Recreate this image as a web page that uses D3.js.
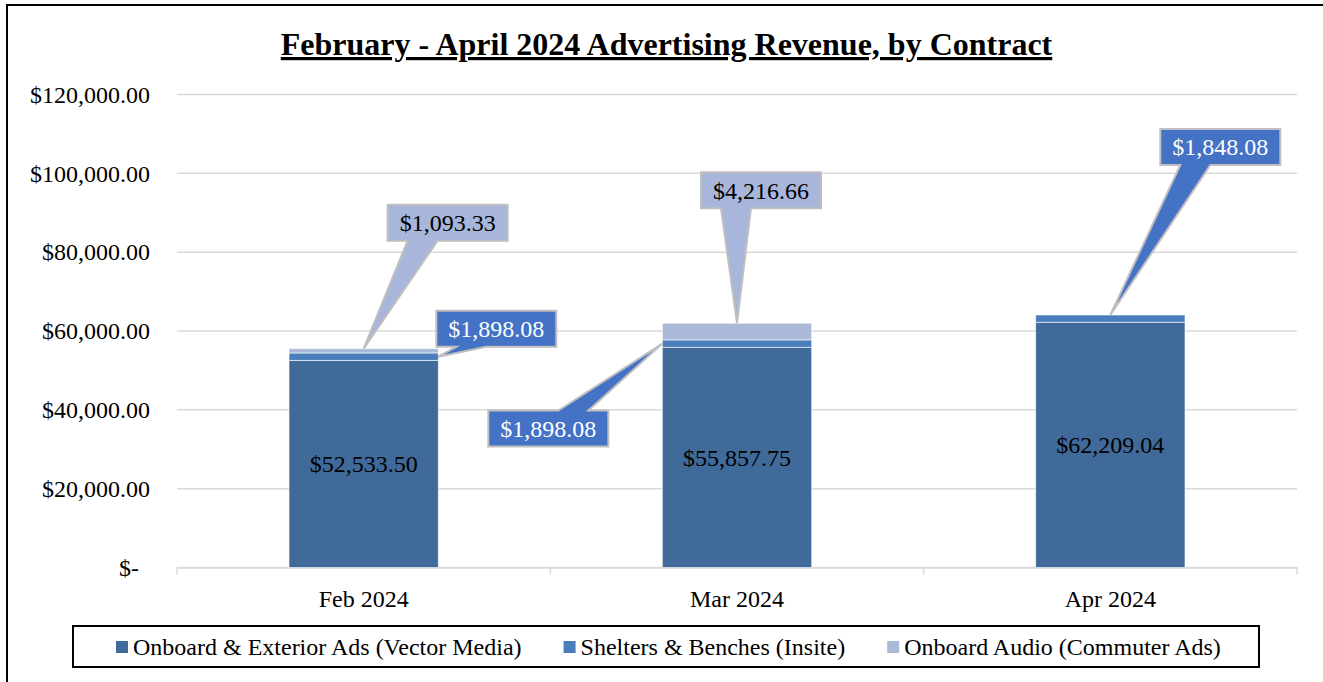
<!DOCTYPE html>
<html>
<head>
<meta charset="utf-8">
<script src="https://cdn.jsdelivr.net/npm/d3@7"></script>
<style>
    body { margin: 0; background: #ffffff; }
    svg { display: block; font-family: "Times New Roman", "Liberation Serif", serif; }
</style>
</head>
<body>
<div id="chart"></div>
<script>
// ---------------------------------------------------------------------------
// Datos
// ---------------------------------------------------------------------------
const months = ["Feb 2024", "Mar 2024", "Apr 2024"];
const seriesNames = [
    "Onboard & Exterior Ads (Vector Media)",
    "Shelters & Benches (Insite)",
    "Onboard Audio (Commuter Ads)"
];
const vectorMedia = [52533.50, 55857.75, 62209.04];
const insite = [1898.08, 1898.08, 1848.08];
const commuterAds = [1093.33, 4216.66, 0];
const yTicks = [0, 20000, 40000, 60000, 80000, 100000, 120000];

// etiquetas tipo "callout": serie, mes, punto de anclaje y desplazamiento de la caja
const callouts = [
    {series: 2, month: 0, anchor: "top",   dx: 84,   dy: -126},
    {series: 1, month: 0, anchor: "right", dx: 58,   dy: -28},
    {series: 2, month: 1, anchor: "top",   dx: 24,   dy: -133},
    {series: 1, month: 1, anchor: "left",  dx: -114, dy: 85},
    {series: 1, month: 2, anchor: "top",   dx: 110,  dy: -168}
];

const colors = ["#3f6a9a", "#4a7ebb", "#aab9d8"];
const calloutFill = ["#3f6a9a", "#4472c4", "#a7b6da"];
const calloutText = ["#ffffff", "#ffffff", "#000000"];
const fontFamily = '"Times New Roman", "Liberation Serif", serif';

const width = 1323, height = 682;
const margin = {top: 94.5, right: 26, bottom: 114.5, left: 177};

// ---------------------------------------------------------------------------
// Gráfico
// ---------------------------------------------------------------------------
const svg = d3.select("#chart").append("svg")
    .attr("width", width)
    .attr("height", height);

// borde exterior
svg.append("path")
    .attr("d", "M7," + (height + 5) + " L7,5 L" + (width + 5) + ",5")
    .attr("fill", "none")
    .attr("stroke", "#000")
    .attr("stroke-width", 2);

const x = d3.scaleBand()
    .domain(months)
    .range([margin.left, width - margin.right])
    .paddingInner(0.6)
    .paddingOuter(0.3);

const y = d3.scaleLinear()
    .domain([0, 120000])
    .range([height - margin.bottom, margin.top]);

const fmt = d3.format(",.2f");
const money = v => "$" + fmt(v);

// título
svg.append("text")
    .attr("x", 666.5)
    .attr("y", 55)
    .attr("text-anchor", "middle")
    .style("font-size", "32px")
    .style("font-weight", "bold")
    .style("text-decoration", "underline")
    .text("February - April 2024 Advertising Revenue, by Contract");

// rejilla
svg.append("g")
    .selectAll("line")
    .data(yTicks)
    .enter()
    .append("line")
    .attr("x1", x.range()[0])
    .attr("x2", x.range()[1])
    .attr("y1", d => y(d))
    .attr("y2", d => y(d))
    .attr("stroke", "#d9d9d9")
    .attr("stroke-width", 1.5);

// eje y
const yAxis = svg.append("g")
    .attr("transform", "translate(" + margin.left + ",0)")
    .call(d3.axisLeft(y).tickValues(yTicks).tickSize(0).tickPadding(27)
        .tickFormat(d => d === 0 ? "$-" : money(d)))
    .attr("font-family", fontFamily);
yAxis.select(".domain").remove();
yAxis.selectAll("text")
    .style("font-size", "24px")
    .attr("fill", "#000")
    .attr("dx", d => d === 0 ? -11 : 0);

// eje x
const xAxis = svg.append("g")
    .attr("transform", "translate(0," + y(0) + ")")
    .call(d3.axisBottom(x).tickSize(0).tickPadding(22))
    .attr("font-family", fontFamily);
xAxis.select(".domain").attr("stroke", "#d9d9d9").attr("stroke-width", 1.5);
xAxis.selectAll("text").style("font-size", "24px").attr("fill", "#000");

const step = x.step();
const bounds = d3.range(months.length + 1).map(i => x.range()[0] + i * step);
xAxis.selectAll(".bound")
    .data(bounds)
    .enter()
    .append("line")
    .attr("class", "bound")
    .attr("x1", d => d).attr("x2", d => d)
    .attr("y1", 0).attr("y2", 7)
    .attr("stroke", "#d9d9d9")
    .attr("stroke-width", 1.5);

// barras apiladas
const table = months.map((m, i) => ({
    month: m, s0: vectorMedia[i], s1: insite[i], s2: commuterAds[i]
}));
const stack = d3.stack().keys(["s0", "s1", "s2"])(table);

svg.append("g")
    .selectAll("g")
    .data(stack)
    .enter()
    .append("g")
    .attr("fill", (d, i) => colors[i])
    .selectAll("rect")
    .data(d => d)
    .enter()
    .append("rect")
    .attr("x", d => x(d.data.month))
    .attr("y", d => y(d[1]))
    .attr("width", x.bandwidth())
    .attr("height", d => y(d[0]) - y(d[1]))
    .attr("stroke", "#ffffff")
    .attr("stroke-opacity", d => (d[1] - d[0]) > 0 ? 0.6 : 0)
    .attr("stroke-width", 1);

// etiquetas dentro de la barra principal
svg.append("g")
    .selectAll("text")
    .data(stack[0])
    .enter()
    .append("text")
    .attr("x", d => x(d.data.month) + x.bandwidth() / 2)
    .attr("y", d => (y(d[0]) + y(d[1])) / 2)
    .attr("dy", "0.35em")
    .attr("text-anchor", "middle")
    .style("font-size", "24px")
    .text(d => money(d[1] - d[0]));

/**
 * Construye la forma de callout (rectángulo con cuña) apuntando a (tx, ty).
 */
function calloutPath(bx, by, w, h, tx, ty){
    const cx = bx + w / 2, cy = by + h / 2;
    const rx = (tx - cx) / w, ry = (ty - cy) / h;
    let side;
    if(Math.abs(ry) >= Math.abs(rx)) side = ry > 0 ? "bottom" : "top";
    else side = rx > 0 ? "right" : "left";

    let a, b;
    if(side === "top" || side === "bottom"){
        a = tx < cx ? bx + w * 2 / 12 : bx + w * 7 / 12;
        b = tx < cx ? bx + w * 5 / 12 : bx + w * 10 / 12;
    } else {
        a = ty < cy ? by + h * 2 / 12 : by + h * 7 / 12;
        b = ty < cy ? by + h * 5 / 12 : by + h * 10 / 12;
    }

    let p = "M" + bx + "," + by;
    if(side === "top") p += " L" + a + "," + by + " L" + tx + "," + ty + " L" + b + "," + by;
    p += " L" + (bx + w) + "," + by;
    if(side === "right") p += " L" + (bx + w) + "," + a + " L" + tx + "," + ty + " L" + (bx + w) + "," + b;
    p += " L" + (bx + w) + "," + (by + h);
    if(side === "bottom") p += " L" + b + "," + (by + h) + " L" + tx + "," + ty + " L" + a + "," + (by + h);
    p += " L" + bx + "," + (by + h);
    if(side === "left") p += " L" + bx + "," + b + " L" + tx + "," + ty + " L" + bx + "," + a;
    return p + " Z";
}

// callouts
const calloutLayer = svg.append("g");
callouts.forEach(function(c){
    const seg = stack[c.series][c.month];
    const x0 = x(months[c.month]);
    let tx, ty;
    if(c.anchor === "top"){
        tx = x0 + x.bandwidth() / 2;
        ty = y(seg[1]);
    } else {
        tx = c.anchor === "right" ? x0 + x.bandwidth() : x0;
        ty = (y(seg[0]) + y(seg[1])) / 2;
    }

    const g = calloutLayer.append("g");
    const path = g.append("path");
    const label = g.append("text")
        .attr("x", tx + c.dx)
        .attr("y", ty + c.dy)
        .attr("dy", "0.35em")
        .attr("text-anchor", "middle")
        .style("font-size", "24px")
        .attr("fill", calloutText[c.series])
        .text(money(seg[1] - seg[0]));

    const w = label.node().getComputedTextLength() + 24;
    const h = 36;
    path.attr("d", calloutPath(tx + c.dx - w / 2, ty + c.dy - h / 2, w, h, tx, ty))
        .attr("fill", calloutFill[c.series])
        .attr("stroke", "#bfbfbf")
        .attr("stroke-width", 2)
        .attr("stroke-linejoin", "miter");
});

// leyenda
svg.append("rect")
    .attr("x", 73).attr("y", 626)
    .attr("width", 1186).attr("height", 41)
    .attr("fill", "#fff")
    .attr("stroke", "#000")
    .attr("stroke-width", 2);

const legend = svg.append("g");
let lx = 116;
seriesNames.forEach(function(name, i){
    legend.append("rect")
        .attr("x", lx).attr("y", 641)
        .attr("width", 12).attr("height", 12)
        .attr("fill", colors[i]);
    const t = legend.append("text")
        .attr("x", lx + 17)
        .attr("y", 655)
        .style("font-size", "24px")
        .text(name);
    lx += 17 + t.node().getComputedTextLength() + 42;
});
</script>
</body>
</html>
